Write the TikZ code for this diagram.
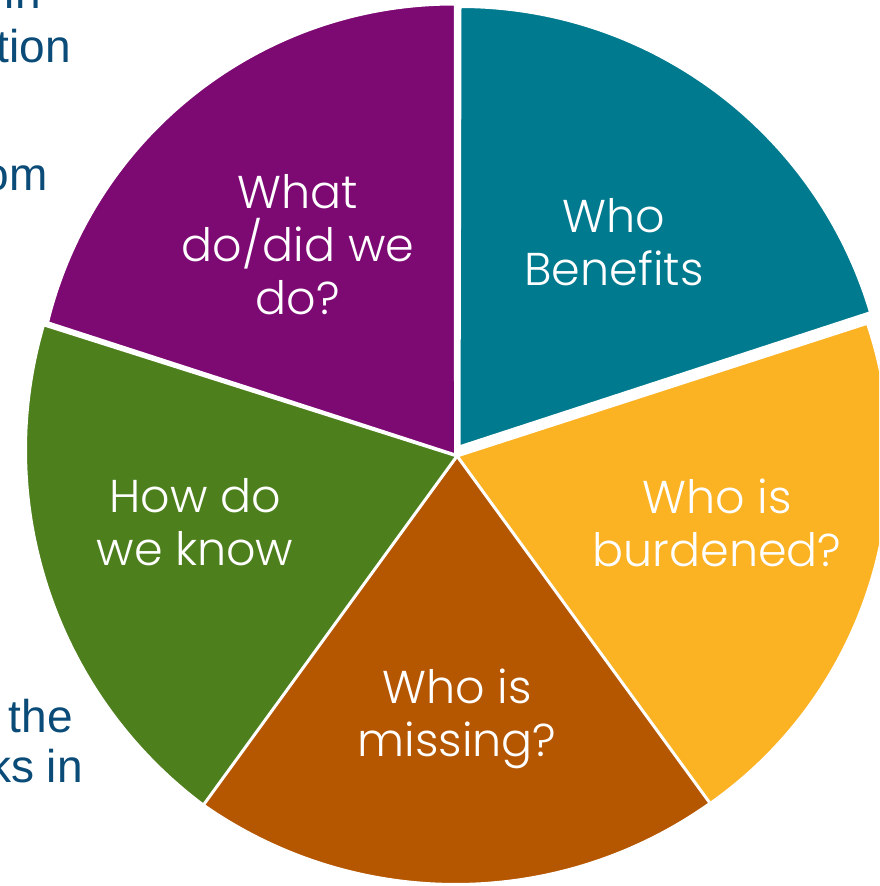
\documentclass[tikz,border=0pt]{standalone}
\usepackage{fontspec}
\setmainfont{Liberation Sans}
\IfFontExistsTF{Poppins Light}{\newfontfamily\wedgefont{Poppins Light}}{\newfontfamily\wedgefont{Poppins}}
\definecolor{wteal}{RGB}{0,122,142}
\definecolor{wyellow}{RGB}{251,178,35}
\definecolor{wbrown}{RGB}{181,86,0}
\definecolor{wgreen}{RGB}{78,127,29}
\definecolor{wpurple}{RGB}{125,9,115}
\definecolor{fragblue}{RGB}{10,75,120}
\tikzset{
  wedge/.style={draw=white, line width=3pt, line join=round},
  lbl/.style={text=white, font=\wedgefont\fontsize{46}{53}\selectfont, align=center, inner sep=0pt},
  frag/.style={text=fragblue, font=\fontsize{46}{52}\selectfont, anchor=base east, inner sep=0pt}
}
\begin{document}
\begin{tikzpicture}[x=1pt,y=1pt]
\useasboundingbox (0,0) rectangle (879,-886);
\clip (0,0) rectangle (879,-886);
% wedges
\path[wedge, fill=wteal] (459,-447) -- ([shift={(460,-435)}]90:428.5) arc[start angle=90, end angle=16.6, radius=428.5] -- cycle;
\path[wedge, fill=wyellow] (457,-456) -- ([shift={(467,-458)}]18.6:422.5) arc[start angle=18.6, end angle=-55.3, radius=422.5] -- cycle;
\path[wedge, fill=wbrown] (457,-456) -- ([shift={(455.5,-444.5)}]-54.64:440) arc[start angle=-54.64, end angle=-125.36, radius=440] -- cycle;
\path[wedge, fill=wgreen] (457,-456) -- ([shift={(469,-450)}]163.6:443.5) arc[start angle=163.6, end angle=233.2, radius=443.5] -- cycle;
\path[wedge, fill=wpurple] (455.5,-455) -- ([shift={(453.5,-422)}]166.25:418) arc[start angle=166.25, end angle=89.73, radius=418] -- cycle;
% wedge labels
\node[lbl] (benefits) at (614,-242.5) {Who\\Benefits};
\node[lbl] (burdened) at (717,-522.5) {Who is\\burdened?};
\node[lbl] (missing) at (457,-719) {Who is\\missing?};
\node[lbl] (know) at (195,-522.5) {How do\\we know};
\node[lbl] (whatdo) at (298,-245) {What\\do/did we\\do?};
% clipped side text
\node[frag] (f1) at (41,-9) {in};
\node[frag] (f2) at (71,-62) {tion};
\node[frag] (f3) at (48,-190) {om};
\node[frag] (f4) at (73,-732) {the};
\node[frag] (f5) at (83,-782) {ks in};
\end{tikzpicture}
\end{document}
